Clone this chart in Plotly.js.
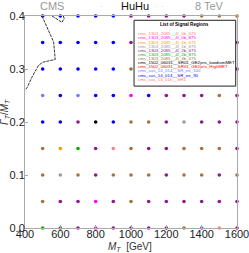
<!DOCTYPE html>
<html><head><meta charset="utf-8">
<script src="https://cdn.plot.ly/plotly-3.0.1.min.js"></script>
<style>html,body{margin:0;padding:0;background:#fff}#c{width:249px;height:253px}</style>
</head><body><div id="c"></div>
<script>
// Data
var masses = [500,600,700,800,900,1000,1100,1200,1300,1400,1500,1600];
var widths = [0.0,0.05,0.1,0.15,0.2,0.25,0.3,0.35,0.4];
var srNames = [
 "cms_1303_2085__4l_0b_675",
 "cms_1303_2085__4l_0b_875",
 "cms_1303_2085__4l_1b_675",
 "cms_1303_2085__4l_1b_875",
 "cms_1303_2085__4l_2b_675",
 "cms_1303_2085__4l_2b_875",
 "cms_1303_2085__4l_3b_675",
 "cms_1502_06031__SR01_GE2jets_lowdiumMET",
 "cms_1502_06031__SR01_GE2jets_HighMET",
 "cms_sus_14_014__SR_ee_100",
 "cms_sus_14_014__SR_ee_90",
 "cms_sus_13_016__SR1"
];
var srColors = ["#ff8080","#ff00ff","#ff9900","#999999","#8b1a8b","#00b000","#a8703a","#000000","#ff0000","#7777ff","#0000ff","#ff7070"];
// best signal region index per (width row, mass column); -1 = hidden by legend
var bestSR = [
 [5,8,4,1,4,4,4,4,6,1,0,4],
 [6,4,4,1,4,6,4,4,4,4,4,4],
 [6,3,6,4,6,6,6,4,6,6,4,6],
 [6,2,5,4,0,6,4,4,6,6,6,4],
 [10,10,4,7,10,6,6,4,3,4,4,4],
 [9,10,9,10,10,1,10,4,4,4,6,4],
 [10,10,10,10,10,6,-1,-1,-1,-1,-1,4],
 [10,10,10,10,10,4,-1,-1,-1,-1,-1,4],
 [10,10,10,10,10,4,4,4,4,6,6,6]
];
var tickM = [400,600,800,1000,1200,1400,1600];
var tickG = [0,0.1,0.2,0.3,0.4];
var tickGText = ['0.0','0.1','0.2','0.3','0.4'];
var contourM = [496,562,571,502,477,440,412,400,null,553,609,622,617];
var contourG = [0.4,0.351,0.318,0.313,0.307,0.285,0.265,0.26,null,0.4,0.388,0.395,0.4];

var traces = [];
for (var s=0; s<srNames.length; s++){
  var xs=[], ys=[];
  for (var r=0;r<widths.length;r++) for (var c=0;c<masses.length;c++)
    if (bestSR[r][c]===s){xs.push(masses[c]); ys.push(widths[r]);}
  traces.push({type:'scatter',mode:'markers',x:xs,y:ys,name:srNames[s],
    marker:{color:srColors[s],size:3.6},cliponaxis:false,showlegend:false,hoverinfo:'skip'});
}
traces.push({type:'scatter',mode:'lines',x:contourM,y:contourG,connectgaps:false,
  line:{color:'#333',width:1,dash:'3px,1px'},showlegend:false,hoverinfo:'skip'});

// pixel helpers
var L=24.6,T=15.7,W=212.7,H=212.6;
function px(x){return (x-L)/W;}
function py(y){return (T+H-y)/H;}

var ann = [];
ann.push({xref:'paper',yref:'paper',x:px(185),y:py(24.5),text:'<b>List of Signal Regions</b>',showarrow:false,
  font:{family:'Liberation Sans, Arial',size:4.6,color:'#000'},xanchor:'center',yanchor:'middle'});
for (var i=0;i<srNames.length;i++){
  ann.push({xref:'paper',yref:'paper',x:px(135.8),y:py(33.5+i*4.14),text:srNames[i],showarrow:false,
    font:{family:'Liberation Sans, Arial',size:4.4,color:srColors[i]},xanchor:'left',yanchor:'middle'});
}
var hf = 'Liberation Sans, Arial';
ann.push({xref:'paper',yref:'paper',x:px(52),y:py(6),text:'CMS',showarrow:false,font:{family:hf,size:11,color:'#999'},xanchor:'center',yanchor:'middle'});
ann.push({xref:'paper',yref:'paper',x:px(101),y:py(6),text:'·',showarrow:false,font:{family:hf,size:8,color:'#ccc'},xanchor:'center',yanchor:'middle'});
ann.push({xref:'paper',yref:'paper',x:px(135),y:py(6),text:'HuHu',showarrow:false,font:{family:hf,size:11,color:'#111'},xanchor:'center',yanchor:'middle'});
ann.push({xref:'paper',yref:'paper',x:px(163),y:py(6),text:'·',showarrow:false,font:{family:hf,size:8,color:'#ccc'},xanchor:'center',yanchor:'middle'});
ann.push({xref:'paper',yref:'paper',x:px(210),y:py(6),text:'8 TeV',showarrow:false,font:{family:hf,size:11,color:'#999'},xanchor:'center',yanchor:'middle'});
ann.push({xref:'paper',yref:'paper',x:px(4.5),y:py(112),text:'<i>Γ</i><sub><i>T</i></sub>/<i>M</i><sub><i>T</i></sub>',showarrow:false,textangle:-90,
  font:{family:hf,size:10,color:'#333'},xanchor:'center',yanchor:'middle'});
ann.push({xref:'paper',yref:'paper',x:px(130),y:py(247),text:'<i>M</i><sub><i>T</i></sub>  [GeV]',showarrow:false,
  font:{family:hf,size:10,color:'#333'},xanchor:'center',yanchor:'middle'});

var layout = {
  width:249,height:253,
  margin:{l:L,r:249-L-W,t:T,b:253-T-H,pad:0},
  paper_bgcolor:'#fff',plot_bgcolor:'#fff',
  showlegend:false,
  xaxis:{range:[400,1600],tickvals:tickM,showgrid:false,zeroline:false,ticklabeloverflow:'allow',ticklabelstandoff:-4,
    showline:true,mirror:true,linecolor:'#aaa',linewidth:1,ticks:'inside',ticklen:3,tickcolor:'#aaa',
    tickfont:{family:hf,size:11,color:'#222'}},
  yaxis:{range:[0,0.4],tickvals:tickG,ticktext:tickGText,showgrid:false,zeroline:false,ticklabeloverflow:'allow',ticklabelstandoff:-3,
    showline:true,mirror:true,linecolor:'#aaa',linewidth:1,ticks:'inside',ticklen:3,tickcolor:'#aaa',
    tickfont:{family:hf,size:11,color:'#222'}},
  shapes:[{type:'rect',xref:'paper',yref:'paper',x0:px(134),x1:px(236),y0:py(86),y1:py(20),
    fillcolor:'#fff',line:{color:'#222',width:1},layer:'above'}],
  annotations:ann
};
Plotly.newPlot('c',traces,layout,{displayModeBar:false,staticPlot:true});
</script></body></html>
